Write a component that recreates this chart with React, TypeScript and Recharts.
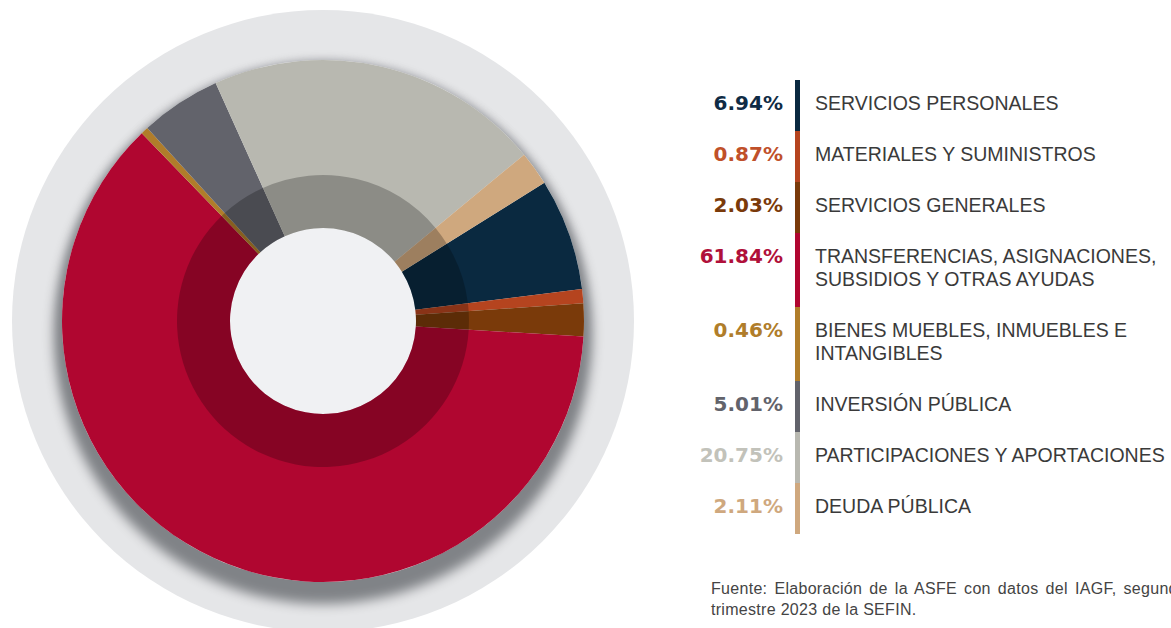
import React from "react";
import { PieChart, Pie, Cell } from "recharts";

// chapters of spending, in clockwise order from the navy slice
const categories = [
  "SERVICIOS PERSONALES",
  "MATERIALES Y SUMINISTROS",
  "SERVICIOS GENERALES",
  "TRANSFERENCIAS, ASIGNACIONES,\nSUBSIDIOS Y OTRAS AYUDAS",
  "BIENES MUEBLES, INMUEBLES E\nINTANGIBLES",
  "INVERSIÓN PÚBLICA",
  "PARTICIPACIONES Y APORTACIONES",
  "DEUDA PÚBLICA",
];
const shares = [6.94, 0.87, 2.03, 61.84, 0.46, 5.01, 20.75, 2.11];
const sliceColors = [
  "#0a2940",
  "#b5441f",
  "#7a3a0a",
  "#b00630",
  "#b07d2a",
  "#62636b",
  "#b8b8b0",
  "#cfa87e",
];
const labelColors = [
  "#0f2b45",
  "#c0502a",
  "#7a3a0a",
  "#b0103a",
  "#b07d2a",
  "#62636b",
  "#c2c2ba",
  "#cfa87e",
];
const sourceLines = [
  "Fuente: Elaboración de la ASFE con datos del IAGF, segundo",
  "trimestre 2023 de la SEFIN.",
];

const data = categories.map((name, i) => ({ name, value: shares[i] }));

const CX = 323;
const CY = 321;
const R_OUT = 261;
const R_IN = 93;
const START = 32;

function formatPct(v: number): string {
  return `${v.toFixed(2)}%`;
}

export default function App() {
  return (
    <div
      style={{
        position: "fixed",
        left: 0,
        top: 0,
        width: 1171,
        height: 628,
        overflow: "hidden",
        background: "#ffffff",
      }}
    >
      {/* outer grey disc */}
      <div
        style={{
          position: "absolute",
          left: CX - 311,
          top: CY - 311,
          width: 622,
          height: 622,
          borderRadius: "50%",
          background: "#e5e6e8",
        }}
      />
      {/* shadow under the pie, also fills the hole */}
      <div
        style={{
          position: "absolute",
          left: CX - R_OUT,
          top: CY - R_OUT,
          width: R_OUT * 2,
          height: R_OUT * 2,
          borderRadius: "50%",
          background: "#f0f1f3",
          boxShadow:
            "0 14px 12px 8px rgba(128,131,135,1), 0 3px 8px 3px rgba(160,163,167,0.8)",
        }}
      />
      <div style={{ position: "absolute", left: 0, top: 0 }}>
        <PieChart width={660} height={628} margin={{ top: 0, right: 0, bottom: 0, left: 0 }}>
          <Pie
            data={data}
            dataKey="value"
            cx={CX}
            cy={CY}
            innerRadius={R_IN}
            outerRadius={R_OUT}
            startAngle={START}
            endAngle={START - 360}
            stroke="none"
            isAnimationActive={false}
          >
            {data.map((d, i) => (
              <Cell key={d.name} fill={sliceColors[i]} />
            ))}
          </Pie>
          {/* darker inner band */}
          <Pie
            data={data}
            dataKey="value"
            cx={CX}
            cy={CY}
            innerRadius={R_IN}
            outerRadius={146}
            startAngle={START}
            endAngle={START - 360}
            stroke="none"
            fill="#000000"
            fillOpacity={0.24}
            isAnimationActive={false}
          />
        </PieChart>
      </div>

      {/* legend */}
      <div style={{ position: "absolute", left: 680, top: 80 }}>
        {data.map((d, i) => {
          const twoLines = d.name.includes("\n");
          return (
            <div
              key={d.name}
              style={{ display: "flex", height: twoLines ? 74 : 51 }}
            >
              <div
                style={{
                  width: 103,
                  textAlign: "right",
                  paddingTop: 12,
                  fontFamily: "'DejaVu Sans', sans-serif",
                  fontWeight: 700,
                  fontSize: 20,
                  lineHeight: "23px",
                  color: labelColors[i],
                }}
              >
                {formatPct(d.value)}
              </div>
              <div
                style={{
                  width: 5,
                  marginLeft: 12,
                  background: sliceColors[i],
                }}
              />
              <div
                style={{
                  marginLeft: 15,
                  paddingTop: 12,
                  fontFamily: "'Liberation Sans', Arial, sans-serif",
                  fontSize: 19.5,
                  lineHeight: "23px",
                  color: "#3a3a3a",
                  whiteSpace: "pre-line",
                }}
              >
                {d.name}
              </div>
            </div>
          );
        })}
      </div>

      {/* source note */}
      <div
        style={{
          position: "absolute",
          left: 711,
          top: 578,
          fontFamily: "'Liberation Sans', Arial, sans-serif",
          fontSize: 16,
          lineHeight: "21px",
          letterSpacing: 0.3,
          color: "#444444",
        }}
      >
        <div style={{ width: 476, textAlign: "justify", textAlignLast: "justify" }}>
          {sourceLines[0]}
        </div>
        <div>{sourceLines[1]}</div>
      </div>
    </div>
  );
}
